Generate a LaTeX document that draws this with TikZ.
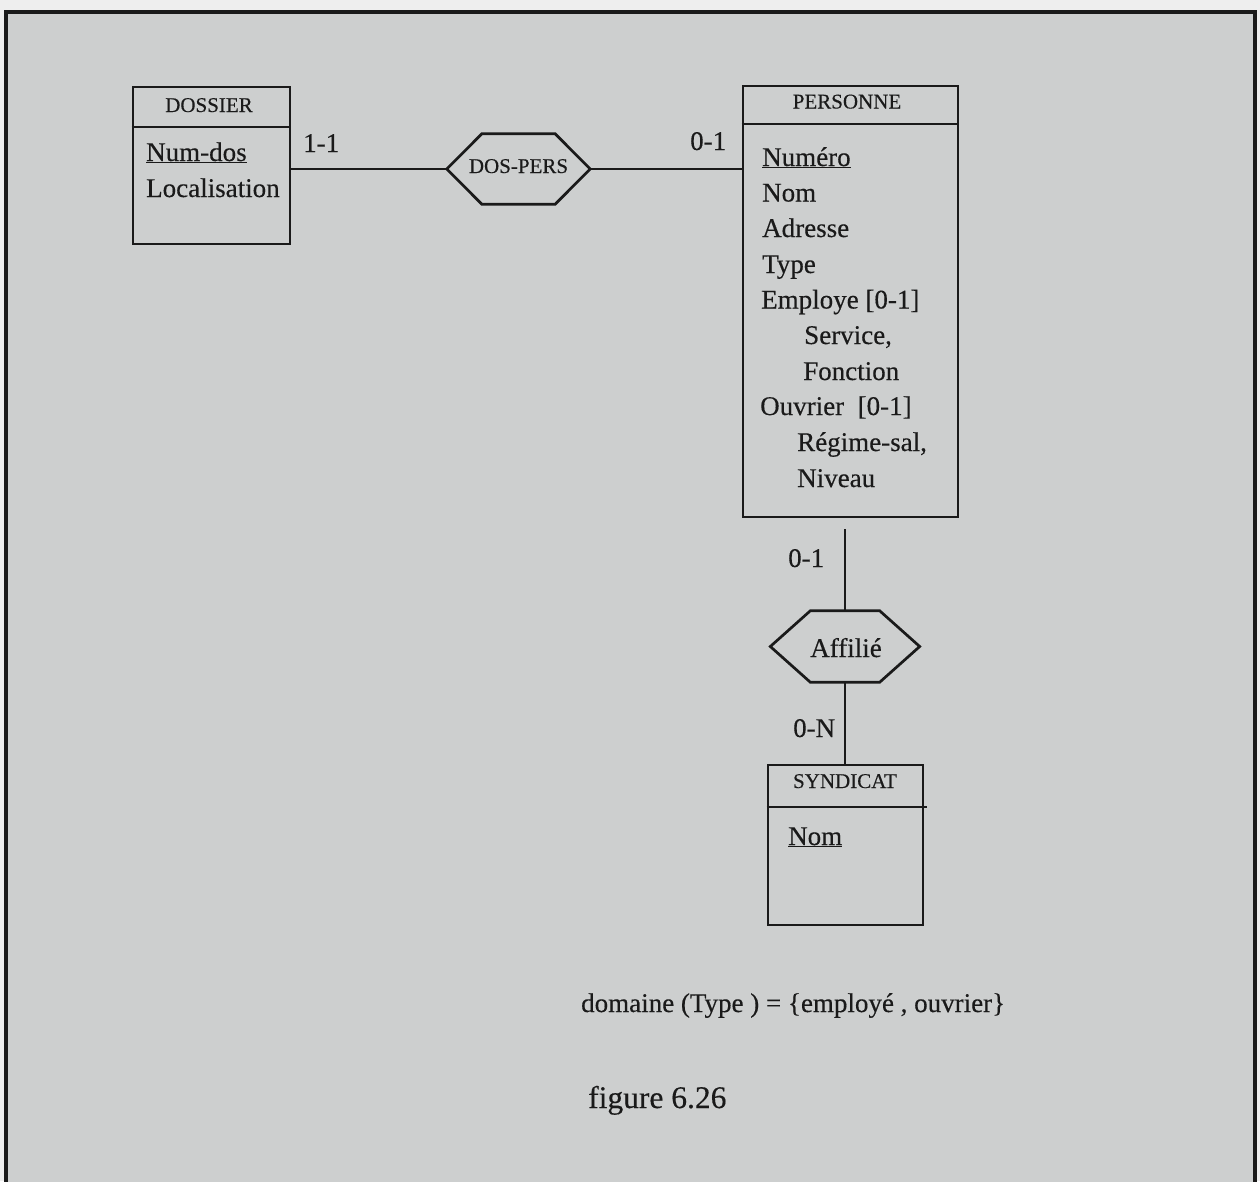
\documentclass[tikz,border=0pt]{standalone}
\usepackage{fontspec}
\setmainfont{Liberation Serif}[FakeBold=0.35]
\usetikzlibrary{calc}

\definecolor{paper}{HTML}{CDCFCF}
\definecolor{margin}{HTML}{EEEEEE}
\definecolor{ink}{HTML}{1A1A1A}

\newcommand{\attrsize}{\fontsize{27}{30}\selectfont}
\newcommand{\headsize}{\fontsize{21}{24}\selectfont}
\newcommand{\keyattr}[1]{\underline{#1}}

\tikzset{
  entity/.style={draw=ink, line width=2.7pt, inner sep=0pt, fill=none},
  relbox/.style={inner sep=0pt, font=\attrsize, text=ink},
  hexline/.style={draw=ink, line width=2.7pt, line join=miter},
  link/.style={draw=ink, line width=2.7pt},
  attr/.style={anchor=base west, inner sep=0pt, font=\attrsize, text=ink},
  head/.style={anchor=base, inner sep=0pt, font=\headsize, text=ink},
  card/.style={anchor=base west, inner sep=0pt, font=\attrsize, text=ink},
}

\begin{document}
\begin{tikzpicture}[x=1pt, y=-1pt]
  % page and framed sheet
  \fill[margin] (0,0) rectangle (1260,1181);
  \useasboundingbox (0,0) rectangle (1260,1181);
  \filldraw[fill=paper, draw=ink, line width=3.5pt] (6,12) rectangle (1255,1200);

  % ---- entity DOSSIER
  \node[entity, minimum width=157pt, minimum height=157pt] (doss) at (211.5,165.5) {};
  \draw[link] (doss.west |- 0,127) -- (doss.east |- 0,127);
  \node[head] (dossH) at (209,112) {DOSSIER};
  \node[attr] (dossA1) at (146,161) {\keyattr{Num-dos}};
  \node[attr] (dossA2) at (146,197) {Localisation};

  % ---- entity PERSONNE
  \node[entity, minimum width=215pt, minimum height=431pt] (pers) at (850.5,301.5) {};
  \draw[link] (pers.west |- 0,124) -- (pers.east |- 0,124);
  \node[head] (persH) at (847,108.5) {PERSONNE};
  \node[attr] (persA1)  at (762,166)   {\keyattr{Numéro}};
  \node[attr] (persA2)  at (762,201.5) {Nom};
  \node[attr] (persA3)  at (762,237)   {Adresse};
  \node[attr] (persA4)  at (762,273)   {Type};
  \node[attr] (persA5)  at (761,308.5) {Employe [0-1]};
  \node[attr] (persA6)  at (804,344)   {Service,};
  \node[attr] (persA7)  at (803,380)   {Fonction};
  \node[attr] (persA8)  at (760,415)   {Ouvrier\ \ [0-1]};
  \node[attr] (persA9)  at (797,451)   {Régime-sal,};
  \node[attr] (persA10) at (797,487)   {Niveau};

  % ---- entity SYNDICAT
  \node[entity, minimum width=155pt, minimum height=160pt] (synd) at (845.5,845) {};
  \draw[link] (synd.west |- 0,807) -- ($(synd.east |- 0,807)+(3,0)$);
  \node[head] (syndH) at (845,788) {SYNDICAT};
  \node[attr] (syndA1) at (788,845) {\keyattr{Nom}};

  % ---- relationship DOS-PERS
  \node[relbox, minimum width=143pt, minimum height=70pt] (dp) at (518.5,169) {};
  \draw[hexline] (dp.west) -- ($(dp.north west)+(35,0)$) -- ($(dp.north east)+(-35,0)$)
    -- (dp.east) -- ($(dp.south east)+(-35,0)$) -- ($(dp.south west)+(35,0)$) -- cycle;
  \node[head] (dpT) at (518.5,173) {DOS-PERS};

  % ---- relationship Affilie
  \node[relbox, minimum width=149pt, minimum height=71pt] (aff) at (845,646.5) {};
  \draw[hexline] (aff.west) -- ($(aff.north west)+(40,0)$) -- ($(aff.north east)+(-40,0)$)
    -- (aff.east) -- ($(aff.south east)+(-40,0)$) -- ($(aff.south west)+(40,0)$) -- cycle;
  \node[attr, anchor=base] (affT) at (846,657) {Affilié};

  % ---- connectors
  \draw[link] (doss.east |- dp.west) -- (dp.west);
  \draw[link] (dp.east) -- (pers.west |- dp.east);
  \draw[link, shorten <=11pt] (aff.north |- pers.south) -- (aff.north);
  \draw[link] (aff.south) -- (aff.south |- synd.north);

  % ---- cardinalities
  \node[card] (c1) at (303,152) {1-1};
  \node[card] (c2) at (690,150) {0-1};
  \node[card] (c3) at (788,567) {0-1};
  \node[card] (c4) at (793,737) {0-N};

  % ---- notes
  \node[attr] (dom) at (581,1012) {domaine (Type ) = \{employé , ouvrier\}};
  \node[anchor=base west, inner sep=0pt, text=ink, font=\fontsize{31.5}{34}\selectfont]
    (fig) at (588,1108) {figure 6.26};
\end{tikzpicture}
\end{document}
